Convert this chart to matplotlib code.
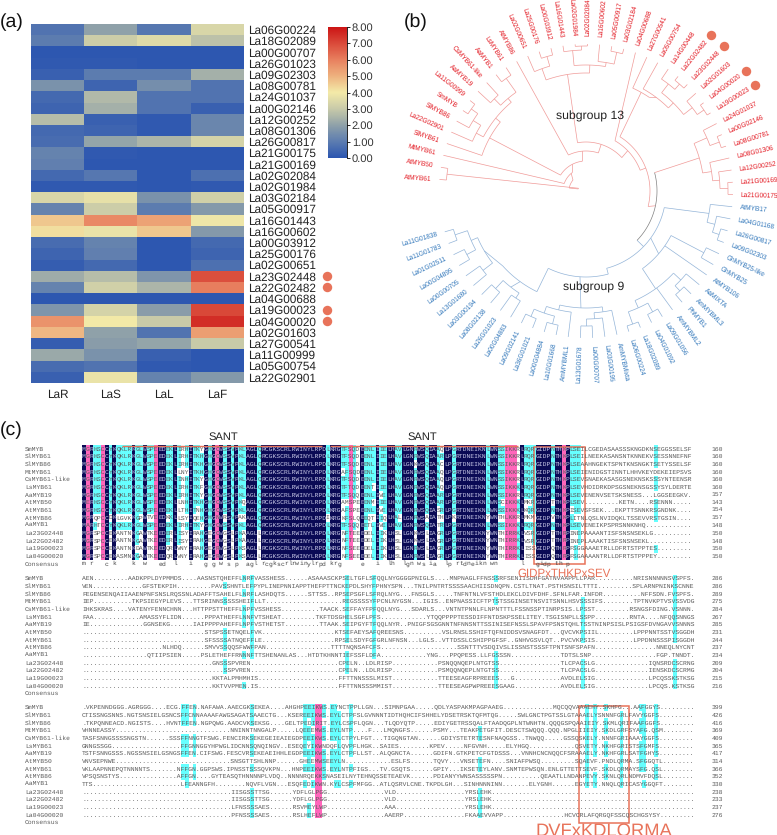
import numpy as np
import matplotlib
matplotlib.use('Agg')
import matplotlib.pyplot as plt
from matplotlib.colors import LinearSegmentedColormap, ListedColormap
from matplotlib.patches import Rectangle
from collections import Counter
from itertools import groupby

plt.rcParams['font.family'] = ['Liberation Sans', 'DejaVu Sans']
plt.rcParams['text.hinting'] = 'no_hinting'

W, H = 777, 835
ORANGE = '#e8735a'

# ---------- panel (a) data
genes = ['La06G00224', 'La18G02089', 'La00G00707', 'La26G01023', 'La09G02303', 'La08G00781', 'La24G01037',
         'La00G02146', 'La12G00252', 'La08G01306', 'La26G00817', 'La21G00175', 'La21G00169', 'La02G02084',
         'La02G01984', 'La03G02184', 'La05G00917', 'La16G01443', 'La16G00602', 'La00G03912', 'La25G00176',
         'La02G00651', 'La23G02448', 'La22G02482', 'La04G00688', 'La19G00023', 'La04G00020', 'La02G01603',
         'La27G00541', 'La11G00999', 'La05G00754', 'La22G02901']
tissues = ['LaR', 'LaS', 'LaL', 'LaF']
LaR = [0.8, 1.0, 0.05, 0.1, 0.3, 1.6, 0.5, 0.4, 2.7, 0.5, 0.6, 1.2, 1.1, 0.5, 0.1, 3.4, 1.2, 4.6, 4.2, 0.6, 0.4, 0.2,
       2.3, 1.2, 0.05, 1.7, 5.6, 4.9, 0.2, 2.2, 0.6, 0.3]
LaS = [2.0, 3.1, 0.05, 0.1, 1.0, 0.4, 2.6, 2.4, 0.3, 0.4, 2.1, 0.1, 0.05, 0.9, 0.1, 3.7, 3.1, 5.8, 3.8, 1.2, 1.1, 0.5,
       2.7, 3.2, 0.05, 3.3, 4.0, 2.0, 1.9, 1.6, 0.8, 3.8]
LaL = [0.9, 3.5, 0.05, 0.05, 1.0, 1.5, 0.8, 0.8, 0.1, 0.1, 2.5, 0.05, 0.05, 0.05, 0.05, 1.6, 1.0, 5.3, 4.6, 0.05, 0.05,
       0.05, 1.7, 2.5, 0.05, 1.9, 3.0, 0.8, 2.1, 0.3, 0.1, 1.2]
LaF = [3.4, 2.8, 0.05, 0.05, 2.4, 0.8, 0.8, 0.3, 1.3, 1.3, 3.3, 0.05, 0.05, 0.7, 0.1, 3.2, 1.8, 3.9, 1.8, 0.5, 0.4, 0.7,
       6.9, 6.0, 0.05, 7.0, 7.5, 5.4, 3.0, 0.05, 0.05, 1.8]
marked = ['La23G02448', 'La22G02482', 'La19G00023', 'La04G00020']

# ---------- panel (b) data
red_leaves = ['AtMYB61', 'AtMYB50', 'MtMYB61', 'SlMYB61', 'La22G02901', 'SlMYB86', 'SmMYB', 'La11G00999', 'AaMYB19',
              'CsMYB61-like', 'AaMYB1', 'LsMYB61', 'AtMYB86', 'La02G00651', 'La25G00176', 'La00G03912', 'La16G01443',
              'La02G01984', 'La02G02084', 'La16G00602', 'La05G00917', 'La03G02184', 'La04G00688', 'La27G00541',
              'La05G00754', 'La14G00448', 'La22G02482', 'La23G02448', 'La02G01603', 'La04G00020', 'La19G00023',
              'La24G01037', 'La00G02146', 'La08G00781', 'La08G01306', 'La12G00252', 'La21G00169', 'La21G00175']
blue_leaves = ['AtMYB17', 'La04G01168', 'La26G00817', 'La09G02303', 'GhMYB25-like', 'GhMYB25', 'AtMYB106', 'AaMIXTA',
               'AmMYBML3', 'PhMYB1', 'AmMYBML2', 'La09G01056', 'La04G01092', 'La18G02089', 'La06G00224', 'AmMYBMixta',
               'La03G00195', 'La00G00707', 'La13G01678', 'AmMYBML1', 'La10G01668', 'La00G04884', 'La36G01021',
               'La09G02141', 'La00G04883', 'La26G01023', 'La08G02138', 'La03G00194', 'La13G01680', 'La00G00705',
               'La00G04895', 'La01G02511', 'La11G01783', 'La11G01838']
leaves = red_leaves + blue_leaves


def N(r, *kids, at=None):
    return dict(r=r, kids=kids, at=at)


# red clades, leaves are indices into the list above
y3 = N(124, 4, N(133, 5, N(141, 6, 7)))
x3 = N(121, N(130, 8, 9), N(138, 10, 11))
s_clade = N(110, 3, N(116, y3, x3))
v_clade = N(140, 0, 1)
u_node = N(17, (170, N(8, (160, v_clade), at=165)), at=140)
t_node = N(23, (161, 2), (130, u_node), at=126)
q_node = N(30, (148, s_clade), (117, t_node), at=97)
n_node = N(40, (116, 12), (95, q_node), at=72)
m_clade = N(118, N(130, 13, N(140, 14, 15)),
            N(126, N(141, 16, N(145, 17, 18)), N(130, 19, N(142, 20, 21))))
l_node = N(49, (100, m_clade), (72, n_node), at=43)
k_node = N(58, (60, 22), (44, l_node), at=21)
h_clade = N(113, 23, (56, N(117, 24, N(124, N(135, 25, N(142, 26, 27)), N(135, 28, N(143, 29, 30))))))
g_node = N(64, (58, h_clade), (21, k_node), at=-14)
a_clade = N(118, N(132, 31, N(142, 32, 33)), N(127, 34, N(134, 35, N(142, 36, 37))))

# blue clades
r1_clade = N(125, 38, N(133, 39, N(140, 40, 41)))
r3_clade = N(120, N(130, 45, N(137, 46, 47)), 48, N(128, N(138, 49, 50), N(141, 51, 52)))
r2_clade = N(96, N(133, 42, 43), 44, (-54, r3_clade))
bm_clade = N(117, N(122, 57, N(129, N(137, 58, 59), N(137, 60, 61))),
             N(122, 53, N(128, 54, N(135, 55, 56))))
bl_clade = N(112, (-138, N(118, N(130, 66, 67), N(125, N(135, 68, 69), N(138, 70, 71)))),
             (-126, N(122, N(128, 62, 63), N(133, 64, 65))), at=-116)
bb_node = N(86, (-116, bl_clade), (-94, bm_clade), at=-75)
ba_node = N(80, (-12, r1_clade), (-36, r2_clade), (-75, bb_node), at=-44)

# ---------- panel (c) data
seq_names = ['SmMYB', 'SlMYB61', 'SlMYB86', 'MtMYB61', 'CsMYB61-like', 'LsMYB61', 'AaMYB19', 'AtMYB50', 'AtMYB61',
             'AtMYB86', 'AaMYB1', 'La23G02448', 'La22G02482', 'La19G00023', 'La04G00020']
block1 = [
    'MGRHSCCYKQ KLRKGLWSPE EDEKLIRHIT KYGHGCWSSV PKLAGLQRCG KSCRLRWINY LRPDLKRGTF SQDEENLIIE LHAVLGNRWS QIAAQLPGRT DNEIKNLWNS SIKKRLRQRG IDPNTHKPLS EILCGEDASA ASSSKNGDKN SEGGSSELSF',
    'MGRHSCCYKQ KLRKGLWSPE EDEKLIRHIT KHGHGCWSSV PKLAGLQRCG KSCRLRWINY LRPDLKRGTF SQDEENLIIE LHAVLGNRWS QIAARLPGRT DNEIKNLWNS SIKKRLRQRG IDPNTHKPLS EILNEEKASA NSNTKNNEKV SESSNNEFNF',
    'MGRHSCCYKQ KLRKGLWSPE EDEKLIRHIT KHGHGCWSSV PKLAGLQRCG KSCRLRWINY LRPDLKRGTF SQDEENLIIE LHAVLGNKWS QIAACLPGRT DNEIKNLWNS SIKKRLRQRG IDPNTHKPLS EAAHNGEKTS PNTKNSNGKT SETYSSELSF',
    'MGRHSCCYKQ KLRKGLWSPE EDEKLLNYIT KHGHGCWSSV PKLAGLQRCG KSCRLRWINY LRPDLKRGAF SQDEENLIIE LHAVLGNRWS QIAAQLPGRT DNEIKNLWNS SIKKRLRQRG IDPNTHKPLS EIENIDGSTI NNTLHHVKEY DEKEIEPSVS',
    'MGRHSCCYKQ KLRKGLWSPE EDEKLINHIT KYGHGCWSSV PKLAGLQRCG KSCRLRWINY LRPDLKRGTF SQDEENLIIE LHAVLGNRWS QIAAQLPGRT DNEIKNLWNS SIKKRLRQRG IDPNTHKPLS EVSNAEKASA SGSNEKNSKS SSYNTEENSR',
    'MGRHSCCYKQ KLRKGLWSPE EDEKLIRHIT KFGHGCWSSV PKLAGLQRCG KSCRLRWINY LRPDLKRGTF TQDEENTIIE LHAVLGNRWS QIAAQLPGRT DNEIKNLWNS SIKKKLRQRG IDPNTHKPLS EVHDIDRKDP SGSNEKNSGS SYSYLDERTE',
    'MGRHSCCYKQ KLRKGLWSPE EDEKLIRHIT KYGHGCWSSV PKLAGLQRCG KSCRLRWINY LRPDLKRGTF SQQEENLIVE LHAVLGNRWS QIAARLPGRT DNEIKNLWNS SIKKRLRQRG IDPNTHKPLS EVENENVSET SKSNESS... LGGSEEGKV.',
    'MERHSCCYKQ KLRKGLWSPE EDEKLLNHIT KHGHGCWSSV PKQAGLQRCG KSCRLRWINY LRPDLKRGAM SPEEENMIIE LHAVLGNRWS QIAARLPGRT DNEIKNLWNS CIKKKLMKRG IDPTTHKPLS EV........ .KETN....R SENNN.....',
    'MGRHSCCYKQ KLRKGLWSPE EDEKLLTHIT NHGHGCWSSV PKLAGLQRCG KSCRLRWINY LRPDLKRGAF SPEEENLIVE LHAVLGNRWS QIASRLPGRT DNEIKNLWNS SIKKKLKQRG IDPNTHKPIS EVSFSEK... EKPTTSNNKR SGNDNK....',
    'MGRQPCCDKL GVKKGPWTVE EDKKLLSYIQ EHGHGNWRSV PAKAGLQRCG KSCRLRWINY LRPDIKRGKF SLQEEQTIIQ LHALLGNRWS AIATHLPKRT DNEIKNYWNT HLKKRLMKMG IDPVTHKPLI TNLQSLNVID QKLTSSEVVR STGSIN....',
    'MARHTCCYKQ KLRKGLWSPE EDEKLIRHIT KYGHGCWSSV PKLAGLQRCG KSCRLRWINY LRPDLKRGTF SQQEETLIVE LHAVLGNRWS QIATRLPGRT DNEIKNLWNS SIKKKLRQRG IDPNTHKPLS EVENEIKPSP RSNNKNHQ.. ..........',
    'MGRSPCCEKA NTNKGAWTKE EDERLISYIR AHGEGCWGSL PKAAGLLRCG KSCRLRWINY LRPDLKRGNF TEEEDELIIK LHSLLGNKWS LIAGRLPGRT DNEIKNYWNT HIRRKLVSRG IDPTTHRPIN EPAAAANTIS FSNSNSEKLG ..........',
    'MGRSPCCEKA NTNKGAWTKE EDERLISYIR AHGEGCWGSL PKAAGLLRCG KSCRLRWINY LRPDLKRGNF TEEEDELIIK LHSLLGNKWS LIAGRLPGRT DNEIKNYWNT HIRRKLVSRG IDPTTHRPIN EPLAAAKTIS FSNSNSEKL. ..........',
    'MGRSPCCEKA NTNKDAWTKE EDQRLVNYIR AHGEGRWGSL PKSAGLLRCG KSCRLRWINY LRPDLKRGNF SEEEDELIIK LHSLLGNRWS LIAGRLPGRT DNEIKNYWNT HIRRKLISSG IDPQTHRPFS GGAAAETRLL DFRTSTPPTE S.........',
    'MGRSPCCEKA SMNKGAWTKE EDQRLVNYIR AHGEGRWGSL PKSAGLLRCG KSCRLRWINY LRPDLKRGNF SEEEDELIIK LHSLLGNRWS LIAGRLPGRT DNEIKNYWNT HIRRKLISSG IDPQTHRPFS GAAAANTRLL DFRTSTPPPE Y.........',
]
block2 = [
    'AEN....... ..AADKPPLD YPMMDS.... AASNSTQHEF FLNRFVASSH ESS......A SAAASCKPSE LTGFLSFQQL NYGGGGPNIG LS....MNPN AGLFFNSSSR FSENIISDHF GATNVAAPPL LPAR...... ....NRISNN NNNSVSPFS.',
    'VEN....... ......GFST EKPIH..... ....PAVSSH NTLEFPYPLI NEPNNIAPPT HEFPTTNCKE PDLSHYFPHN YSPN...TNI LPNTRTSSSS AACHIISDNQ PN.CSTLTNA T.PSTHSNSI LTTTI..... ....SPLARN PNINKSCNNE',
    'FEGENSENQA IIAAENPNFS NSLRQSSNLA DAFFTSAHEL FLNRFLASHD QTS......S TTSS..RPSE PSGFLSFRQL NYG...FNSG LS.....TNF NTNLVFSTHD LEKCLDIVFD HF.SFNLFAR .INFDR.... ......NFFS DN.FVSPFS.',
    'IEP....... ...TKPSIEG YPLEVS...T TSRINNSSSS SHEIFLLT.. .......... ........RE GSSSSYFPCN LNYGSN...I GIS..ENPNA SSICFTPTST SSGINSETNS VITSNNLHSV SSSIFS.... ....TPTNVK PTVSVSSVDG',
    'IHKSKRAS.. ..VATENYFE NNCHNN...H TTPPSTTHEF FLNPFVSSHE SS........ ..TAACK.SE FFAYFPFQQL NYG...SDAR LS...VNTNT PNNLFLNPNT TTLFSSNSSP TINRPSIS.L PSST...... ...RSNGSFD ING.VSNNN.',
    'FAA....... .....AMASS YFLIDN.... ..PPPATHEF FLNNFVTSHE AT........ .TKFTDSGHE LSGFLPFS.. .......... YTQQPPPPTE SSDIFFNTDS KPSSELITEY .TSGISNPLL SSPP...... ...RNTA... .NFQQSNNGS',
    'IE........ ......GGNS EKG......I AIPPPPAHEF FLNPFVSTHE TST....... ..TTAAK.SE IPGYFTFQQL NYR..PNIGF SGSGNNTNFN NSNTTSSINI SEFNSSLSPA VFPSNSTQHL TSSTNINPSI SLPSIGSFDV NGAVVSNNNS',
    '.......... .......... .......... ..STSPSSET NQELFVK... .......... ......KTSE FAEYSAFQRE ESNS...... ....VSLRNS LSSHIFTQFN IDDSVSNAGF DT...QVCVK PSIIL..... ....LPPPNN TSSTVSGGDH',
    '.......... .......... .......... ..SFSSSSAT NQEFFLE... .......... ......RPSE LSDYFGFGRL NFNSN...LG LS..VTTDSS LCSHIPPGFS F..GNHVGSV LQT..PVCVK PSIS...... ....LPPDNN SSSPISGGDH',
    '.......... .......... .NLHDQ.... ..SMVVSSQQ SFWWFPAN.. .......... .....TTTTN QNSAFCFS.. .......... ........SS NTTTVSDQIV SLISSNSTSS SFTPNTSNFS PAFN...... .......... NNEQLNYCNT',
    '.......... .......QTI IPSIEN.... .PSLETHEFF RNNNFTTSHE NANLAS...H TDTKHNNTIE FSSFLDFA.. .......... YNG...PPQP ESS.LLFGSS SN........ .....TDTSL SNP....... .......... FGP.TNNDT.',
    '.......... .......... .......... ....GNSSSP VREN...... .......... .......CPE LN..LDLRIS P......... ...PSNQQNQ EPLNTGTSS. .......... .....TLCPA CSLG...... ........IQ NSRDCSCRNG',
    '.......... .......... .......... .......SSP VREN...... .......... .......CPE LN..LDLRIS P......... ...PSMQQNQ EPLNTGTSS. .......... .....TLCPA CSLG...... ........IE NSKDCSCRMG',
    '.......... .......... .......... ....KKTALP MHMHIS.... .......... .......FFT TNNSSSLMIS T......... ...TTEESEA GFRPREEES. ..G....... .....AVDLE LSIG...... ........LP CQSSKSTKSG',
    '.......... .......... .......... ....KKTVVP MEN.IS.... .......... .......FFT TNNSSSMMIS T......... ...TTEESEA GPWPREEESG AAG....... .....AVDLE LSIG...... ........LP CQS.KSTKSG',
]
block3 = [
    '.VKPENNDGG G.AGRGGG.. ..ECG.FFEN .NAFAWA.AA ECGKSEKEA. ...AHGHPEE IKWS.EYNCT PPLLGN...S IMNPGAA... ..QDLYASPA KMPAGPAAEG .......... ...MQCQQVA AAEHY.SKHF G...AAFGGY S.........',
    'CTISSNGSNN S.NGTSNSIE LGSNCSFFCN NAAAAFAWGS AGATSAAECT G...KSEREE IKWS.EYLCT PFSLGVNNNT IDTHQHCIFS HHELYDSETR SKTQFMTQG. ....SWLGNC TPGTSSLGTA AAELYSNNNF GRLFAVYGGF S.........',
    '.TKPQNNEAC D.NGISTS.. ..HVNTFFEN .NGPQWG.AA DCVKSEKSG. ...GELTPED IRIT.EYLCS PFLQGN...T LQDYQTP... ..EDIYGETR SSQALFTAAD QGPLNTWNHT N.QQQGSPQA AIEIY.SKML QRIFAAFGGF S.........',
    'VHNNEASSY. .......... .......... .........N NINNTNNGAL P.....LQEE EMWS.EYLNT P....F...L MQNGFS.... ..PSMY...T EAKPETGFIT .DESCTSWQQ Q.QQQ.NPGL IIEIY.SKDL GRFSYAFG.Q SM........',
    'TASFSNNGSS SSNGSTN... ...SSSFFNN GTFSWG.FEN CIRKSEKEGE IEAIEGDPEE IKWS.EYLCT PYLFGT...T IGQNGTAN.. ....GDIYST ETRTESNFNA QGSS..TNWQ Q.....GSSQ SKELY.NNNF GRIAAAYGGF S.........',
    'GNNGSSGG.. .......... ......FFGN NGGYHPWGLI DCNNSQNQIN GV..ESEQEY IKWNDQFLQV PFLHGK..SA IES....... .KPEV..... NFGVNH.... .ELYHGQ... .........Q SVETY.NKHF GRISTSFGMF S.........',
    'TSTFSNNGSS S.NGSSNSIE LGSNGSFFEN .CIFSWG.FE SCVRSEKEAE IHHLEGDPEE IKWS.EYLCT PFLLST..AL QGNCTA.... ..GDIFN.GT KPETCFGTDS SS...VNNHC NCNQQCFSRA AAELY.NKHF GRLSATFGHY S.........',
    'VNVSEPNWE. .......... .......... .........S NSGTTSHLNN P......GHE EMWSEEYLN. .......... .ESLFS.... ..TQVY...V NSETEFN... .SNIAFPWSQ .........S QAEVF.PNDL QRMA.SFGGQ TL........',
    'VKLAAPNNEP QTNNNNTS.. .....NFFGN .GGPSWS.IP NSSTSSSQVK PN...HNPEE IKWS.EYLNT PFIGS...TV .GSQTS.... ..GPIY...I KSETEYLANV .SNMTEPWSQ N.ENLGTTET TSEVF.SKDL QRMAYSFG.Q SL........',
    'VPSQSNSTYS .......... .....AFFGN ....GYTEAS QTHNNNNPLV DQ..NNNNRQ EKKSNASEIL NYTEHNQSSE TEAEVK.... ..PDIANYYW NSASSSSSPN .......... QEAATLLNDA NPEVY.SKNL QRLNDMVFDQ SL........',
    'TTS....... .......... ......LFEA NNGFH..... ...NQVFLVG N...ESQFED IKWN.KYLCS PFMFGG..AT LQSRVLCNE. TKPDLGH... SINHNNNINN .......ELY GNH......E GYETY.NNQL QRICASYGGQ FT........',
    '.......... .......... .......... .........I ISGSSTTSG. .....YDFLG LPGG...... .........V LD........ .......... YRSLEHK... .......... .......... .......... .......... ..........',
    '.......... .......... .......... .........I ISGSSTTSG. .....YDFLG LPGG...... .........V LD........ .......... YRSLEHK... .......... .......... .......... .......... ..........',
    '.......... .......... .......... .........L FNSSSSAES. .....RSVME YLWP...... .........A AA........ .......... YRSLEHK... .......... .......... .......... .......... ..........',
    '.......... .......... .......... .........P FNSSSSAES. .....RSLHE FLWP...... .........A AERP...... .......... FKAAEVVAPP .......... ......HCVC RLAFQRGQFS SCQSCHGSYS Y.........',
]
numbers1 = [160, 160, 160, 160, 160, 160, 157, 143, 154, 157, 148, 150, 148, 150, 150]
numbers2 = [286, 286, 289, 275, 284, 267, 285, 231, 244, 237, 234, 209, 204, 215, 216]
numbers3 = [399, 426, 416, 369, 409, 365, 417, 314, 366, 352, 330, 238, 233, 237, 276]
pink1 = [1, 5, 19, 35, 70, 111, 112, 113, 126]
pink2 = []
pink3 = [61, 62]

fig = plt.figure(figsize=(W / 100, H / 100), dpi=100)


def px_axes(left, top, right, bottom, **kw):
    return fig.add_axes([left / W, 1 - bottom / H, (right - left) / W, (bottom - top) / H], **kw)


# ---------- (a) heatmap
heat_cmap = LinearSegmentedColormap.from_list('heat', ['#2c56b0', '#5c7cb0', '#8fa1a9', '#c8caa9', '#f3eaa8',
                                                       '#eeb27f', '#e8805f', '#da4a3a', '#cc1515'])
ax = px_axes(31, 24, 243.5, 382.7)
im = ax.imshow(np.array([LaR, LaS, LaL, LaF]).T, cmap=heat_cmap, vmin=0, vmax=8, aspect='auto', interpolation='nearest')
ax.set_xticks(range(len(tissues)), tissues, fontsize=8.5, color='#222222')
ax.set_yticks(range(len(genes)), genes, fontsize=8.5, color='#222222')
ax.yaxis.tick_right()
ax.tick_params(length=0, axis='both')
ax.tick_params(axis='y', pad=3.5)
ax.tick_params(axis='x', pad=5)
for spine in ax.spines.values():
    spine.set_visible(False)
ax.autoscale(False)
for g in marked:
    ax.plot(5.07, genes.index(g), 'o', ms=6.8, color=ORANGE, mec='none', clip_on=False)

cax = px_axes(328, 27, 347, 158)
cbar = fig.colorbar(im, cax=cax, ticks=np.arange(0, 9), format='%.2f')
cbar.ax.tick_params(labelsize=8, length=2.5, width=0.6, pad=1, labelcolor='#333333')
cbar.outline.set_visible(False)
cbar.ax.spines['right'].set_visible(True)
cbar.ax.spines['right'].set_linewidth(0.6)

fig.text(0 / W, 1 - 22 / H, '(a)', fontsize=14, va='center', color='#111111')
fig.text(404 / W, 1 - 22 / H, '(b)', fontsize=14, va='center', color='#111111')
fig.text(0 / W, 1 - 430 / H, '(c)', fontsize=14, va='center', color='#111111')

# ---------- (b) tree
tree = px_axes(386, -9, 786, 391, projection='polar')
tree.set_rlim(0, 200)
tree.set_axis_off()
tree.patch.set_alpha(0)
TIP_R, LABEL_R, DOT_R = 147, 155, 200
theta0, dtheta = 175.5, 4.78
leaf_theta = [theta0 - dtheta * i for i in range(len(leaves))]


def tline(t, r, color):
    tree.plot(np.radians(t), r, color=color, lw=0.5, solid_capstyle='butt')


def draw(node, color):
    if isinstance(node, int):
        return leaf_theta[node], TIP_R
    anchors = []
    for kid in node['kids']:
        anchor = None
        if isinstance(kid, tuple):
            anchor, kid = kid
        th, r = draw(kid, color)
        anchor = th if anchor is None else anchor
        tline([anchor, th], [node['r'], r], color)
        anchors.append(anchor)
    at = (min(anchors) + max(anchors)) / 2 if node['at'] is None else node['at']
    lo, hi = min(anchors + [at]), max(anchors + [at])
    arc = np.linspace(lo, hi, 40)
    tline(arc, np.full(40, node['r']), color)
    return at, node['r']


RED_LINE, BLUE_LINE, ROOT_LINE = '#f09a98', '#93b4d8', '#808080'
ROOT_R = 71
for anchor, clade, col in [(15, a_clade, RED_LINE), (-12, g_node, RED_LINE), (-44, ba_node, BLUE_LINE)]:
    th, r = draw(clade, col)
    tline([anchor, th], [ROOT_R, r], col)
root_arc = np.linspace(15, -44, 40)
tline(root_arc, np.full(40, ROOT_R), ROOT_LINE)
tree.set_rlim(0, 200)

for i, name in enumerate(leaves):
    t = leaf_theta[i]
    col = '#e2131c' if i < len(red_leaves) else '#2a72b8'
    on_right = -90 < t < 90
    tree.text(np.radians(t), LABEL_R, name, rotation=t if on_right else t + 180, rotation_mode='anchor',
              ha='left' if on_right else 'right', va='center', fontsize=4.7, color=col)
for name in marked:
    tree.plot(np.radians(leaf_theta[red_leaves.index(name)]), DOT_R, 'o', ms=6.8, color=ORANGE, mec='none',
              clip_on=False)
tree.set_rlim(0, 200)
fig.text(590 / W, 1 - 116 / H, 'subgroup 13', fontsize=8.8, ha='center', va='center', color='#222222')
fig.text(594 / W, 1 - 287 / H, 'subgroup 9', fontsize=8.8, ha='center', va='center', color='#222222')

# ---------- (c) alignment
N_COLS = 160
COL_W, ROW_H = 3.81, 7.66
align_cmap = ListedColormap(['#ffffff', '#66ffff', '#ff66bb', '#0a0a55'])
MONO = dict(family='Liberation Mono', fontsize=4.57, va='center', ha='left')
NAME_COL, NUM_COL = -15, 165.3


def draw_block(rows, pink, numbers, first_center):
    rows = [r.replace(' ', '').ljust(N_COLS, '.')[:N_COLS] for r in rows]
    ax = px_axes(82, first_center - ROW_H / 2, 82 + N_COLS * COL_W, first_center - ROW_H / 2 + 16 * ROW_H)
    n = len(rows)
    cells = np.zeros((n + 1, N_COLS), dtype=int)
    consensus = ['.'] * N_COLS
    for c in range(N_COLS):
        col = [r[c] for r in rows]
        letter, count = Counter(ch for ch in col if ch != '.').most_common(1)[0] if set(col) != {'.'} else ('.', 0)
        for k, ch in enumerate(col):
            if ch == '.':
                continue
            if c in pink:
                cells[k, c] = 2
            elif count == n:
                cells[k, c] = 3
            elif count >= 7 and ch == letter:
                cells[k, c] = 1
        if count == n and c not in pink:
            consensus[c] = letter.lower()
    ax.imshow(cells, cmap=align_cmap, vmin=0, vmax=3, aspect='auto', interpolation='nearest',
              extent=(0, N_COLS, n + 0.5, -0.5))
    ax.set_axis_off()
    ax.autoscale(False)
    # letters drawn run by run, light on the navy cells
    for k, row in enumerate(rows):
        x = 0
        for navy, run in groupby(zip(row, cells[k]), key=lambda p: p[1] == 3):
            txt = ''.join(p[0] for p in run)
            ax.text(x, k, txt, color='#c4c4e4' if navy else '#5c5c5c', clip_on=False, **MONO)
            x += len(txt)
        ax.text(NAME_COL, k, seq_names[k], color='#5c5c5c', clip_on=False, **MONO)
        ax.text(NUM_COL, k, str(numbers[k]), color='#5c5c5c', clip_on=False, **MONO)
    ax.text(NAME_COL, n, 'Consensus', color='#5c5c5c', clip_on=False, **MONO)
    for c, ch in enumerate(consensus):
        if ch != '.':
            ax.text(c, n, ch, color='#444444', clip_on=False, **MONO)
    return ax


ax1 = draw_block(block1, pink1, numbers1, 449)
ax2 = draw_block(block2, pink2, numbers2, 578.7)
ax3 = draw_block(block3, pink3, numbers3, 707.7)
ax1.set_zorder(5)
ax3.set_zorder(5)

for c0, c1, label_col in [(10.5, 63, 37), (65, 114.5, 89.2)]:
    ax1.plot([c0, c1], [-0.41, -0.41], color=ORANGE, lw=1.0, clip_on=False, solid_capstyle='butt')
    ax1.text(label_col, -1.6, 'SANT', fontsize=8, ha='center', va='center', color='#222222', clip_on=False)

ax1.add_patch(Rectangle((118.6, -0.28), 13.4, 15.26, fill=False, ec=ORANGE, lw=1.1, clip_on=False))
ax3.add_patch(Rectangle((130.4, -0.24), 13.2, 15.34, fill=False, ec=ORANGE, lw=1.1, clip_on=False))
ax1.text(126.6, 16.3, 'GIDPxTHKPxSEV', fontsize=8.3, ha='center', va='center', color=ORANGE, clip_on=False)
ax3.text(137, 16.07, 'DVFxKDLQRMA', fontsize=13.2, ha='center', va='center', color=ORANGE, clip_on=False)

fig.savefig('out.png', dpi=100)
